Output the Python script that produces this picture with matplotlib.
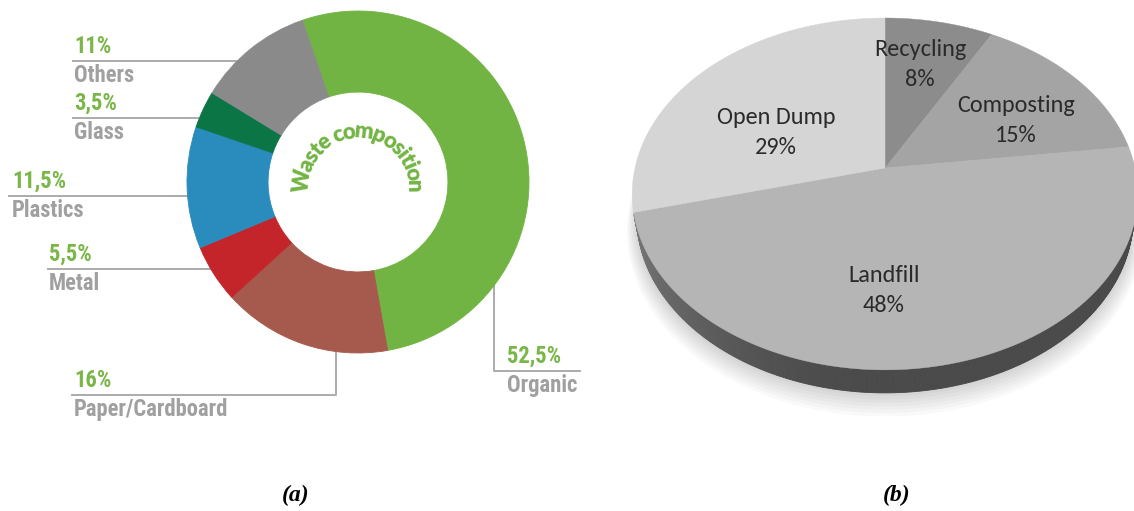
import numpy as np
import matplotlib.pyplot as plt
from matplotlib import font_manager
from matplotlib.font_manager import FontProperties, findfont, get_font

W, H, DPI = 1134, 511, 100

# (a) waste composition
comp_names = ['Organic', 'Paper/Cardboard', 'Metal', 'Plastics', 'Glass', 'Others']
comp_values = [52.5, 16, 5.5, 11.5, 3.5, 11]
comp_pct = ['52,5%', '16%', '5,5%', '11,5%', '3,5%', '11%']
comp_colors = ['#72b443', '#a65a4d', '#c4252b', '#2a8bbd', '#0b7546', '#8a8a8a']

# (b) waste treatment
treat_names = ['Recycling', 'Composting', 'Landfill', 'Open Dump']
treat_values = [8, 15, 48, 29]
treat_colors = ['#8c8c8c', '#a4a4a4', '#b5b5b5', '#d5d5d5']


def pick_font(bold=True, narrow=True):
    prefer = ['Liberation Sans Narrow', 'Roboto Condensed', 'Open Sans Condensed',
              'Noto Sans', 'DejaVu Sans', 'Roboto', 'Open Sans', 'Lato']
    best = None
    for fe in font_manager.fontManager.ttflist:
        st = str(fe.stretch).lower()
        is_narrow = ('Narrow' in fe.name or 'Condensed' in fe.name
                     or st in ('condensed', 'semi-condensed'))
        if narrow and not is_narrow:
            continue
        if fe.style != 'normal':
            continue
        w = fe.weight if isinstance(fe.weight, int) else font_manager.weight_dict.get(fe.weight, 400)
        if bold and not (600 <= w <= 800):
            continue
        rank = 99
        for i, p in enumerate(prefer):
            if fe.name.startswith(p):
                rank = i
                break
        key = (rank, abs(w - 700))
        if best is None or key < best[0]:
            best = (key, fe.fname)
    if best is None:
        return FontProperties(family='Liberation Sans', weight='bold')
    return FontProperties(fname=best[1])


def advances(s, fp, size):
    ft = get_font(findfont(fp))
    ft.set_size(size, 72)
    return np.array([ft.load_char(ord(c)).linearHoriAdvance / 65536 for c in s]) * DPI / 72


fp_cond = pick_font()
fp_title = FontProperties(family=['Lato', 'Open Sans', 'DejaVu Sans'], weight='heavy')

fig = plt.figure(figsize=(W / DPI, H / DPI), dpi=DPI)
ax = fig.add_axes([0, 0, 1, 1])
ax.set_xlim(0, W)
ax.set_ylim(H, 0)
ax.axis('off')

# ---------------- (a) donut ----------------
cx, cy, R = 358, 182, 171
pad = 1.2
axd = fig.add_axes([(cx - pad * R) / W, 1 - (cy + pad * R) / H, 2 * pad * R / W, 2 * pad * R / H])
wedges, _ = axd.pie(comp_values, colors=comp_colors, startangle=109, counterclock=False,
                    radius=1, wedgeprops=dict(width=0.474, linewidth=0.6))
for wdg in wedges:
    wdg.set_edgecolor(wdg.get_facecolor())
axd.set_xlim(-pad, pad)
axd.set_ylim(-pad, pad)
axd.set_aspect('auto')

# label size fitted to width of "Paper/Cardboard"
lab_size = 16.0 * 155 / advances('Paper/Cardboard', fp_cond, 16.0).sum()
green_txt = '#7ab648'
gray_txt = '#a0a0a0'
line_col = '#ababab'


def edge_x(y):
    return cx - np.sqrt(R ** 2 - (y - cy) ** 2)


def edge_y(x):
    return cy + np.sqrt(R ** 2 - (x - cx) ** 2)


# left side labels: (index, line start x, line y, text x)
left_layout = [(5, 72, 61, 74), (4, 72, 118, 74), (3, 8, 196, 12), (2, 47, 269, 49)]
for i, x0, ly, tx in left_layout:
    ax.plot([x0, edge_x(ly)], [ly, ly], color=line_col, lw=1.4, solid_capstyle='butt')
    ax.text(tx, ly - 3, comp_pct[i], fontproperties=fp_cond, size=lab_size, color=green_txt,
            ha='left', va='bottom')
    ax.text(tx, ly + 3, comp_names[i], fontproperties=fp_cond, size=lab_size, color=gray_txt,
            ha='left', va='top')

# paper / cardboard with elbow
px, py = 336, 395
ax.plot([72, px, px], [py, py, edge_y(px)], color=line_col, lw=1.4)
ax.text(74, py - 3, comp_pct[1], fontproperties=fp_cond, size=lab_size, color=green_txt,
        ha='left', va='bottom')
ax.text(74, py + 3, comp_names[1], fontproperties=fp_cond, size=lab_size, color=gray_txt,
        ha='left', va='top')

# organic on the right
ox, oy = 494, 371
ax.plot([ox, ox, 580], [edge_y(ox), oy, oy], color=line_col, lw=1.4)
ax.text(507, oy - 3, comp_pct[0], fontproperties=fp_cond, size=lab_size, color=green_txt,
        ha='left', va='bottom')
ax.text(507, oy + 3, comp_names[0], fontproperties=fp_cond, size=lab_size, color=gray_txt,
        ha='left', va='top')

# curved title in the hole
title = 'Waste composition'
t_size = 16.0
r_base = 49
arc_span = np.radians(190)
adv = advances(title, fp_title, t_size)
track = (r_base * arc_span) / adv.sum()
adv = adv * track
centers = np.cumsum(adv) - adv / 2
total = adv.sum()
for ch, c in zip(title, centers):
    th = np.radians(90) + (total / 2 - c) / r_base
    ax.text(cx + r_base * np.cos(th), cy + 5 - r_base * np.sin(th), ch, fontproperties=fp_title,
            size=t_size, color='#72b443', rotation=np.degrees(th) - 90,
            rotation_mode='anchor', ha='center', va='baseline')

# ---------------- (b) 3D pie ----------------
bx, by = 885, 168
f_px, D, phi, hgt = 1230.0, 4.92, np.radians(43.5), 0.131
sp, cp = np.sin(phi), np.cos(phi)


def project(xw, yw, zw):
    v = yw * sp + zw * cp
    d = D + yw * cp - zw * sp
    return bx + f_px * xw / d, by - f_px * v / d


# soft shadow halo under the pie
tt = np.linspace(0, 2 * np.pi, 400)
for k in range(7, 0, -1):
    sx, sy = project((1 + 0.007 * k) * np.sin(tt), (1 + 0.007 * k) * np.cos(tt), -hgt - 0.01 * k)
    ax.fill(sx, sy, color='#000000', alpha=0.025, lw=0)

# side wall (front facing part)
ts = np.linspace(0, 2 * np.pi, 721)
for t0, t1 in zip(ts[:-1], ts[1:]):
    tm = 0.5 * (t0 + t1)
    if np.cos(tm) > -1 / (D * cp) + 0.02:
        continue
    xa, ya = project(np.sin([t0, t1]), np.cos([t0, t1]), 0)
    xb, yb = project(np.sin([t1, t0]), np.cos([t1, t0]), -hgt)
    g = 0.29 + 0.18 * max(0.0, -np.sin(tm)) ** 2
    ax.fill(np.r_[xa, xb], np.r_[ya, yb], color=(g, g, g), lw=0.6)

# top face slices, clockwise from 12 o'clock
bounds = np.r_[0, np.cumsum(treat_values)] / np.sum(treat_values) * 2 * np.pi
for k, col in enumerate(treat_colors):
    tt = np.linspace(bounds[k], bounds[k + 1], 200)
    xs, ys = project(np.r_[0, np.sin(tt)], np.r_[0, np.cos(tt)], 0)
    ax.fill(xs, ys, color=col, lw=0.3)

fp_lab = FontProperties(family=['Carlito', 'Lato', 'Open Sans', 'DejaVu Sans'])
treat_pos = [(920, 64), (1016, 120), (884, 290), (776, 132)]
for name, val, (lx, ly) in zip(treat_names, treat_values, treat_pos):
    ax.text(lx, ly - 15, name, fontproperties=fp_lab, size=17.5, color='#2a2a2a',
            ha='center', va='center')
    ax.text(lx, ly + 15, f'{val}%', fontproperties=fp_lab, size=17.5, color='#2a2a2a',
            ha='center', va='center')

# captions
fp_cap = FontProperties(family=['Liberation Serif', 'DejaVu Serif'], weight='bold', style='italic')
ax.text(296, 495, '(a)', fontproperties=fp_cap, size=17, ha='center', va='center')
ax.text(897, 495, '(b)', fontproperties=fp_cap, size=17, ha='center', va='center')

fig.savefig('out.png', dpi=DPI)
